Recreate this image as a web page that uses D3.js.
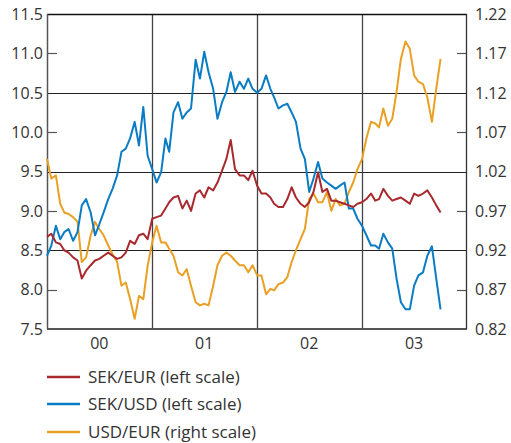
<!DOCTYPE html>
<html lang="en">
<head>
  <meta charset="UTF-8">
  <title>SEK/EUR, SEK/USD and USD/EUR</title>
  <script src="https://d3js.org/d3.v7.min.js"></script>
  <style>
    body {
      margin: 0;
      background: #fff;
      font-family: "Open Sans", "Noto Sans", sans-serif;
    }

    .tick-label {
      font-size: 16px;
      fill: #333;
    }

    .legend text {
      font-size: 17px;
      fill: #333;
    }

    .series {
      fill: none;
      stroke-width: 2;
      stroke-linejoin: round;
    }
  </style>
</head>
<body>
  <div id="chart"></div>

  <script>
    // Sampled twice a month, 1 Jan 2000 to about 1 Oct 2003
    const sekEur = [
      8.67, 8.71, 8.60, 8.58, 8.50, 8.47, 8.41, 8.37, 8.14, 8.24, 8.31, 8.37,
      8.39, 8.43, 8.47, 8.43, 8.39, 8.41, 8.47, 8.62, 8.58, 8.69, 8.71, 8.64,
      8.90, 8.92, 8.94, 9.03, 9.11, 9.17, 9.19, 9.03, 9.13, 9.00, 9.22, 9.26,
      9.17, 9.30, 9.26, 9.36, 9.51, 9.66, 9.90, 9.53, 9.45, 9.45, 9.39, 9.51,
      9.32, 9.22, 9.22, 9.17, 9.09, 9.05, 9.05, 9.15, 9.30, 9.17, 9.09, 9.05,
      9.11, 9.24, 9.49, 9.24, 9.28, 9.13, 9.13, 9.11, 9.09, 9.07, 9.05, 9.09,
      9.11, 9.15, 9.22, 9.13, 9.15, 9.28, 9.19, 9.13, 9.15, 9.17, 9.13, 9.09,
      9.22, 9.19, 9.22, 9.26, 9.17, 9.07, 8.98
    ];

    const sekUsd = [
      8.43, 8.56, 8.81, 8.64, 8.73, 8.77, 8.62, 8.73, 9.07, 9.15, 8.98, 8.69,
      8.83, 8.98, 9.15, 9.28, 9.45, 9.75, 9.79, 9.92, 10.13, 9.83, 10.32, 9.70,
      9.53, 9.36, 9.49, 9.92, 9.75, 10.25, 10.38, 10.17, 10.25, 10.30, 10.92, 10.68,
      11.02, 10.76, 10.55, 10.17, 10.38, 10.51, 10.76, 10.51, 10.64, 10.55, 10.68, 10.55,
      10.50, 10.55, 10.72, 10.55, 10.44, 10.30, 10.34, 10.36, 10.25, 10.13, 9.79, 9.66,
      9.24, 9.41, 9.62, 9.41, 9.36, 9.32, 9.28, 9.32, 9.36, 9.03, 9.03, 8.90,
      8.81, 8.69, 8.56, 8.56, 8.52, 8.71, 8.60, 8.52, 8.14, 7.84, 7.75, 7.75,
      8.05, 8.18, 8.22, 8.43, 8.55, 8.14, 7.75
    ];

    const usdEur = [
      1.036, 1.011, 1.015, 0.979, 0.968, 0.966, 0.962, 0.956, 0.905, 0.911, 0.939, 0.956,
      0.947, 0.939, 0.926, 0.915, 0.905, 0.875, 0.879, 0.858, 0.833, 0.862, 0.858, 0.900,
      0.930, 0.951, 0.930, 0.930, 0.922, 0.913, 0.892, 0.888, 0.896, 0.875, 0.854, 0.850,
      0.852, 0.850, 0.875, 0.901, 0.913, 0.917, 0.913, 0.907, 0.901, 0.901, 0.892, 0.901,
      0.888, 0.888, 0.864, 0.871, 0.869, 0.877, 0.879, 0.886, 0.905, 0.920, 0.934, 0.947,
      0.985, 0.992, 0.981, 0.981, 0.994, 0.970, 0.985, 0.977, 0.979, 0.994, 1.006, 1.023,
      1.036, 1.062, 1.083, 1.081, 1.076, 1.100, 1.078, 1.087, 1.121, 1.163, 1.185, 1.176,
      1.142, 1.134, 1.131, 1.114, 1.083, 1.125, 1.163
    ];

    const years = [2000, 2001, 2002, 2003];
    const yearLabels = ["00", "01", "02", "03"];
    const leftTicks = [7.5, 8.0, 8.5, 9.0, 9.5, 10.0, 10.5, 11.0, 11.5];
    const rightTicks = [0.82, 0.87, 0.92, 0.97, 1.02, 1.07, 1.12, 1.17, 1.22];
    const gridValues = [8.5, 9.5, 10.5];
    const leftMinor = [8.0, 9.0, 10.0, 11.0];
    const rightMinor = [0.87, 0.97, 1.07, 1.17];
    const seriesNames = ["SEK/EUR (left scale)", "SEK/USD (left scale)", "USD/EUR (right scale)"];
    const seriesColors = ["#a8292e", "#0a7cc4", "#e9a024"];

    // dates of the samples: 1st and 16th of each month
    const dates = sekEur.map((d, i) => new Date(2000, Math.floor(i / 2), i % 2 ? 16 : 1));

    const width = 511;
    const height = 443;
    const margin = { top: 14, right: 44, bottom: 114, left: 47 };

    const x = d3.scaleTime()
      .domain([new Date(2000, 0, 1), new Date(2004, 0, 1)])
      .range([margin.left, width - margin.right]);

    const yLeft = d3.scaleLinear()
      .domain([7.5, 11.5])
      .range([height - margin.bottom, margin.top]);

    const yRight = d3.scaleLinear()
      .domain([0.82, 1.22])
      .range([height - margin.bottom, margin.top]);

    const svg = d3.select("#chart")
      .append("svg")
      .attr("width", width)
      .attr("height", height);

    const x0 = margin.left, x1 = width - margin.right;
    const y0 = margin.top, y1 = height - margin.bottom;

    // horizontal grid lines
    svg.append("g")
      .selectAll("line")
      .data(gridValues)
      .join("line")
      .attr("x1", x0).attr("x2", x1)
      .attr("y1", d => Math.round(yLeft(d)) + 0.5)
      .attr("y2", d => Math.round(yLeft(d)) + 0.5)
      .attr("stroke", "#222")
      .attr("stroke-width", 1.2);

    // vertical year lines
    svg.append("g")
      .selectAll("line")
      .data(years.slice(1))
      .join("line")
      .attr("x1", d => Math.round(x(new Date(d, 0, 1))) + 0.5)
      .attr("x2", d => Math.round(x(new Date(d, 0, 1))) + 0.5)
      .attr("y1", y0).attr("y2", y1)
      .attr("stroke", "#444")
      .attr("stroke-width", 1.3);

    // short inside ticks
    svg.append("g")
      .selectAll("line")
      .data(leftMinor)
      .join("line")
      .attr("x1", x0).attr("x2", x0 + 10)
      .attr("y1", d => Math.round(yLeft(d)) + 0.5)
      .attr("y2", d => Math.round(yLeft(d)) + 0.5)
      .attr("stroke", "#555")
      .attr("stroke-width", 1.2);

    svg.append("g")
      .selectAll("line")
      .data(rightMinor)
      .join("line")
      .attr("x1", x1 - 10).attr("x2", x1)
      .attr("y1", d => Math.round(yRight(d)) + 0.5)
      .attr("y2", d => Math.round(yRight(d)) + 0.5)
      .attr("stroke", "#555")
      .attr("stroke-width", 1.2);

    // frame
    svg.append("line").attr("x1", x0).attr("x2", x1).attr("y1", y0 + 0.5).attr("y2", y0 + 0.5)
      .attr("stroke", "#111").attr("stroke-width", 1.3);
    svg.append("line").attr("x1", x0).attr("x2", x1).attr("y1", y1).attr("y2", y1)
      .attr("stroke", "#555").attr("stroke-width", 1.8);
    svg.append("line").attr("x1", x0 + 0.5).attr("x2", x0 + 0.5).attr("y1", y0).attr("y2", y1)
      .attr("stroke", "#555").attr("stroke-width", 1.5);
    svg.append("line").attr("x1", x1 - 0.5).attr("x2", x1 - 0.5).attr("y1", y0).attr("y2", y1)
      .attr("stroke", "#333").attr("stroke-width", 1.3);

    // tick labels
    svg.append("g")
      .selectAll("text")
      .data(leftTicks)
      .join("text")
      .attr("class", "tick-label")
      .attr("x", x0 - 4)
      .attr("y", d => yLeft(d))
      .attr("dy", "0.36em")
      .attr("text-anchor", "end")
      .text(d => d.toFixed(1));

    svg.append("g")
      .selectAll("text")
      .data(rightTicks)
      .join("text")
      .attr("class", "tick-label")
      .attr("x", x1 + 8)
      .attr("y", d => yRight(d))
      .attr("dy", "0.36em")
      .attr("text-anchor", "start")
      .text(d => d.toFixed(2));

    svg.append("g")
      .selectAll("text")
      .data(years)
      .join("text")
      .attr("class", "tick-label")
      .attr("x", d => x(new Date(d, 6, 1)))
      .attr("y", y1 + 20)
      .attr("text-anchor", "middle")
      .text((d, i) => yearLabels[i]);

    // series lines: orange under, red on top
    const leftLine = d3.line().x((d, i) => x(dates[i])).y(d => yLeft(d));
    const rightLine = d3.line().x((d, i) => x(dates[i])).y(d => yRight(d));

    svg.append("path").datum(usdEur).attr("class", "series")
      .attr("stroke", seriesColors[2]).attr("d", rightLine);
    svg.append("path").datum(sekUsd).attr("class", "series")
      .attr("stroke", seriesColors[1]).attr("d", leftLine);
    svg.append("path").datum(sekEur).attr("class", "series")
      .attr("stroke", seriesColors[0]).attr("d", leftLine);

    // legend
    const legend = svg.append("g").attr("class", "legend");
    const legendY = [377, 404, 432];
    seriesNames.forEach((name, i) => {
      legend.append("line")
        .attr("x1", 47).attr("x2", 80)
        .attr("y1", legendY[i]).attr("y2", legendY[i])
        .attr("stroke", seriesColors[i])
        .attr("stroke-width", 2.5);
      legend.append("text")
        .attr("x", 88)
        .attr("y", legendY[i])
        .attr("dy", "0.36em")
        .text(name);
    });
  </script>
</body>
</html>
